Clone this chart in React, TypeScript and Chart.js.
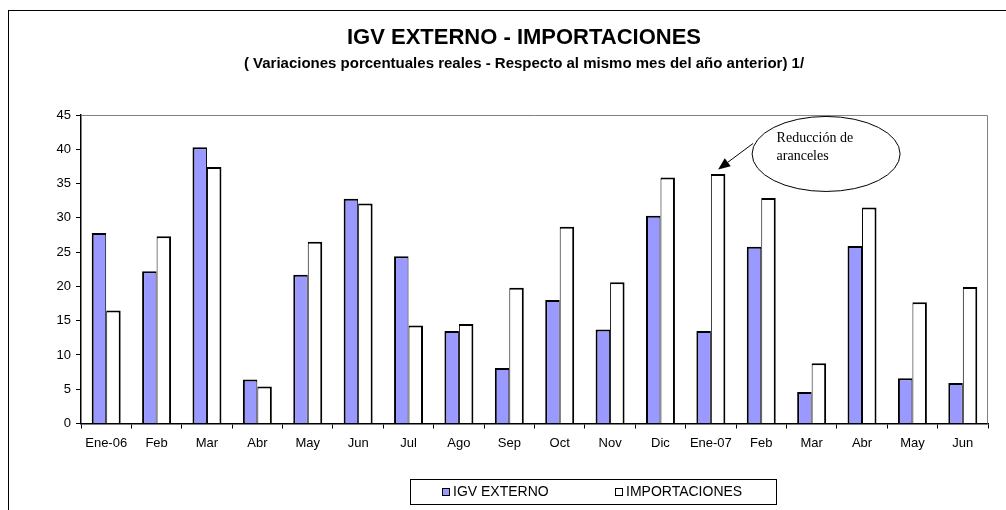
import React, { useEffect, useRef } from "react";
import { Chart, registerables } from "chart.js";

Chart.register(...registerables);

const categories = ["Ene-06", "Feb", "Mar", "Abr", "May", "Jun", "Jul", "Ago", "Sep", "Oct", "Nov", "Dic", "Ene-07", "Feb", "Mar", "Abr", "May", "Jun"];
const igvExterno = [27.8, 22.2, 40.3, 6.4, 21.7, 32.8, 24.4, 13.5, 8.1, 18.0, 13.7, 30.3, 13.5, 25.8, 4.6, 25.9, 6.6, 5.9];
const importaciones = [16.5, 27.3, 37.4, 5.4, 26.5, 32.1, 14.3, 14.5, 19.8, 28.7, 20.6, 35.9, 36.4, 32.9, 8.8, 31.5, 17.7, 19.9];
const seriesLabels = ["IGV EXTERNO", "IMPORTACIONES"];
const yMin = 0;
const yMax = 45;
const yStep = 5;
const titleText = "IGV EXTERNO - IMPORTACIONES";
const subtitleText = "( Variaciones porcentuales reales - Respecto al mismo mes del año anterior) 1/";
const annotationLines = ["Reducción de", "aranceles"];
const annotationIndex = 12;

const SANS = "'Liberation Sans', Arial, sans-serif";
const SERIF = "'Liberation Serif', 'Times New Roman', serif";

const decorPlugin = {
  id: "decor",
  afterDraw(chart: any) {
    const ctx = chart.ctx as CanvasRenderingContext2D;
    const ca = chart.chartArea;
    ctx.save();

    // outer frame
    ctx.strokeStyle = "#000";
    ctx.lineWidth = 1;
    ctx.strokeRect(8.5, 10.5, 1100, 700);

    // plot area top/right border (gray)
    ctx.strokeStyle = "#808080";
    ctx.beginPath();
    ctx.moveTo(ca.left, ca.top + 0.5);
    ctx.lineTo(ca.right - 0.5, ca.top + 0.5);
    ctx.lineTo(ca.right - 0.5, ca.bottom);
    ctx.stroke();

    // titles
    ctx.fillStyle = "#000";
    ctx.textAlign = "center";
    ctx.textBaseline = "middle";
    ctx.font = `bold 22px ${SANS}`;
    ctx.fillText(titleText, 524, 37.5);
    ctx.font = `bold 15px ${SANS}`;
    ctx.fillText(subtitleText, 524, 64);

    // legend
    ctx.strokeStyle = "#000";
    ctx.lineWidth = 1;
    ctx.strokeRect(410.5, 479.5, 366, 25);
    const ds = chart.data.datasets;
    const itemX = [442, 615];
    ctx.font = `14px ${SANS}`;
    ctx.textAlign = "left";
    ctx.textBaseline = "middle";
    ds.forEach((d: any, i: number) => {
      ctx.fillStyle = d.backgroundColor;
      ctx.fillRect(itemX[i], 488, 7, 7);
      ctx.strokeStyle = "#000";
      ctx.strokeRect(itemX[i] + 0.5, 488.5, 7, 7);
      ctx.fillStyle = "#000";
      ctx.fillText(d.label, itemX[i] + 11, 492);
    });

    // annotation
    const el = chart.getDatasetMeta(1).data[annotationIndex];
    if (el) {
      const tipX = el.x;
      const tipY = el.y - 4.5;
      const tailX = tipX + 35;
      const tailY = tipY - 26;
      const ang = Math.atan2(tipY - tailY, tipX - tailX);
      const hl = 12, hw = 5;
      const bx = tipX - hl * Math.cos(ang);
      const by = tipY - hl * Math.sin(ang);
      ctx.strokeStyle = "#000";
      ctx.lineWidth = 1;
      ctx.beginPath();
      ctx.moveTo(tailX, tailY);
      ctx.lineTo(bx, by);
      ctx.stroke();
      ctx.fillStyle = "#000";
      ctx.beginPath();
      ctx.moveTo(tipX, tipY);
      ctx.lineTo(bx + hw * Math.sin(ang), by - hw * Math.cos(ang));
      ctx.lineTo(bx - hw * Math.sin(ang), by + hw * Math.cos(ang));
      ctx.closePath();
      ctx.fill();

      ctx.beginPath();
      ctx.ellipse(tipX + 108, tipY - 15.5, 74, 37.5, 0, 0, Math.PI * 2);
      ctx.fillStyle = "#fff";
      ctx.fill();
      ctx.stroke();

      ctx.fillStyle = "#000";
      ctx.font = `14px ${SERIF}`;
      ctx.textAlign = "left";
      ctx.textBaseline = "alphabetic";
      ctx.fillText(annotationLines[0], tipX + 58.5, tipY - 27.3);
      ctx.fillText(annotationLines[1], tipX + 58.5, tipY - 9);
    }
    ctx.restore();
  },
};

export default function App() {
  const ref = useRef<HTMLCanvasElement>(null);
  useEffect(() => {
    if (!ref.current) return;
    const tickFont = { family: SANS, size: 13 };
    const chart = new Chart(ref.current, {
      type: "bar",
      data: {
        labels: categories,
        datasets: [
          {
            label: seriesLabels[0],
            data: igvExterno,
            backgroundColor: "#9999FF",
            borderColor: "#000",
            borderWidth: { top: 2, left: 2, right: 1, bottom: 0 } as any,
            borderSkipped: "start",
          },
          {
            label: seriesLabels[1],
            data: importaciones,
            backgroundColor: "#FFFFFF",
            borderColor: "#000",
            borderWidth: { top: 2, left: 1, right: 2, bottom: 0 } as any,
            borderSkipped: "start",
          },
        ],
      },
      options: {
        animation: false,
        responsive: true,
        maintainAspectRatio: false,
        devicePixelRatio: 1,
        layout: { padding: { left: 8, right: 18, top: 115, bottom: 41.5 } },
        datasets: { bar: { categoryPercentage: 0.575, barPercentage: 1 } },
        plugins: {
          legend: { display: false },
          title: { display: false },
          tooltip: { enabled: false },
        },
        scales: {
          x: {
            offset: true,
            grid: { display: true, drawOnChartArea: false, drawTicks: true, tickLength: 5, color: "#000", offset: true },
            border: { display: true, color: "#000", width: 1.5 },
            ticks: { font: tickFont, color: "#000", padding: 7, maxRotation: 0, autoSkip: false },
            afterFit: (s: any) => { s.height = 45; },
          },
          y: {
            min: yMin,
            max: yMax,
            ticks: { stepSize: yStep, font: tickFont, color: "#000", padding: 5 },
            grid: { display: true, drawOnChartArea: false, drawTicks: true, tickLength: 5, color: "#000" },
            border: { display: true, color: "#000", width: 1.5 },
            afterFit: (s: any) => { s.width = 73; },
          },
        },
      },
      plugins: [decorPlugin],
    });
    return () => chart.destroy();
  }, []);
  return (
    <div style={{ position: "absolute", left: 0, top: 0, width: 1006, height: 510, background: "#fff" }}>
      <canvas ref={ref} />
    </div>
  );
}
